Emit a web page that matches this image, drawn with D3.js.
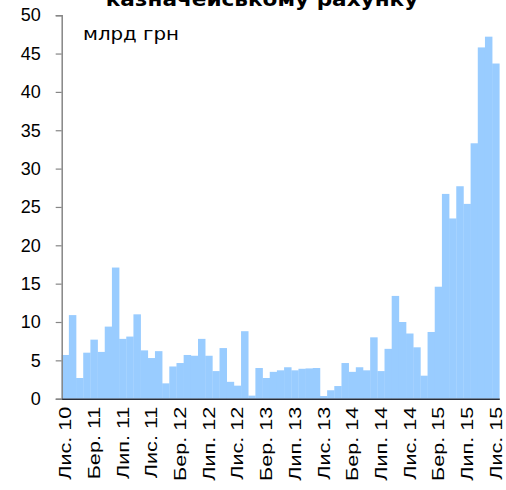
<!DOCTYPE html>
<html>
<head>
<meta charset="utf-8">
<script src="https://cdn.jsdelivr.net/npm/d3@7"></script>
<style>
  body { margin: 0; background: #fff; }
  svg { display: block; font-family: "DejaVu Sans", Verdana, sans-serif; }
</style>
</head>
<body>
<div id="chart"></div>
<script>
// Monthly balances, Nov 2010 - Nov 2015 (bn UAH)
const monthNames = ['Січ.', 'Лют.', 'Бер.', 'Кві.', 'Тра.', 'Чер.', 'Лип.', 'Сер.', 'Вер.', 'Жов.', 'Лис.', 'Гру.'];
const values = [
  5.7, 10.9, 2.7, 6.0, 7.7, 6.1, 9.4, 17.1, 7.8, 8.1, 11.0, 6.3, 5.3, 6.2, 2.0, 4.2,
  4.65, 5.7, 5.6, 7.8, 5.6, 3.6, 6.6, 2.2, 1.7, 8.8, 0.4, 4.0, 2.7, 3.5, 3.7, 4.1,
  3.7, 3.9, 3.95, 4.0, 0.35, 1.1, 1.65, 4.65, 3.5, 4.1, 3.7, 8.0, 3.6, 6.5, 13.4, 10.0,
  8.5, 6.7, 3.0, 8.7, 14.6, 26.7, 23.5, 27.7, 25.4, 33.3, 45.8, 47.2, 43.7
];
const yTicks = [0, 5, 10, 15, 20, 25, 30, 35, 40, 45, 50];
const titleText = 'казначейському рахунку';
const unitText = 'млрд грн';

// category labels: Лис. 10 ... Лис. 15
const categories = values.map((v, i) => {
  const m = (10 + i) % 12;
  const yr = 10 + Math.floor((10 + i) / 12);
  return monthNames[m] + ' ' + yr;
});
const tickLabels = categories.filter((c, i) => i % 4 === 0);

const W = 506, H = 490;
const margin = {top: 15.2, right: 6.7, bottom: 91.3, left: 61.7};
const width = W - margin.left - margin.right;
const height = H - margin.top - margin.bottom;

const svg = d3.select('#chart')
  .append('svg')
    .attr('width', W)
    .attr('height', H);

const g = svg.append('g')
  .attr('transform', 'translate(' + margin.left + ',' + margin.top + ')');

const x = d3.scaleBand()
  .domain(categories)
  .range([0, width])
  .padding(0);

const y = d3.scaleLinear()
  .domain([0, 50])
  .range([height, 0]);

// bars
g.selectAll('rect.bar')
  .data(values)
  .join('rect')
    .attr('class', 'bar')
    .attr('x', (d, i) => x(categories[i]))
    .attr('width', x.bandwidth() + 0.3)
    .attr('y', d => y(d))
    .attr('height', d => height - y(d))
    .attr('fill', '#99ccff');

// y axis
const yAxis = g.append('g')
  .call(d3.axisLeft(y).tickValues(yTicks).tickSize(6).tickPadding(15));
yAxis.select('.domain').attr('stroke', '#868686').attr('stroke-width', 1.5);
yAxis.selectAll('.tick line').attr('stroke', '#868686').attr('stroke-width', 1.2);
yAxis.selectAll('.tick text')
  .attr('font-size', 18)
  .attr('fill', '#000');

// x axis
const xAxis = g.append('g')
  .attr('transform', 'translate(0,' + height + ')')
  .call(d3.axisBottom(x).tickValues(tickLabels).tickSize(0).tickSizeOuter(0));
xAxis.select('.domain').attr('stroke', '#2a2f3a').attr('stroke-width', 1.5);
xAxis.selectAll('.tick text')
  .attr('font-size', 18)
  .attr('fill', '#000')
  .attr('text-anchor', 'end')
  .attr('x', 0)
  .attr('y', 0)
  .attr('dy', '0.35em')
  .attr('transform', 'rotate(-90) translate(-8,0) scale(1.2,0.95)');

// unit label
svg.append('text')
  .attr('x', 83)
  .attr('y', 40)
  .attr('font-size', 18)
  .attr('transform', 'translate(83,0) scale(1.1,1) translate(-83,0)')
  .text(unitText);

// title (second line, cut at top)
svg.append('text')
  .attr('x', 262)
  .attr('y', 6)
  .attr('text-anchor', 'middle')
  .attr('font-size', 20)
  .attr('font-weight', 'bold')
  .attr('transform', 'translate(262,0) scale(1.08,1) translate(-262,0)')
  .text(titleText);
</script>
</body>
</html>
